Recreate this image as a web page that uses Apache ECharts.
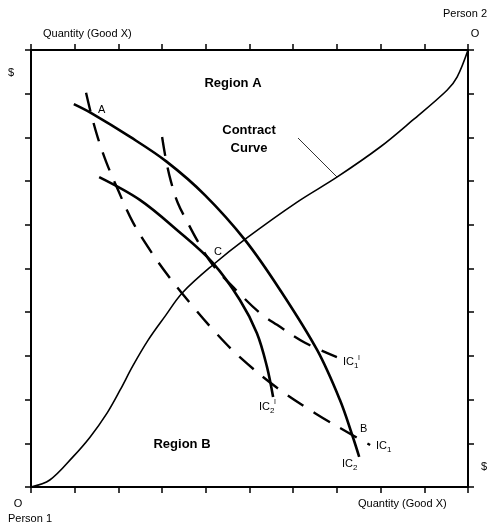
<!DOCTYPE html>
<html><head><meta charset="utf-8">
<script src="https://cdn.jsdelivr.net/npm/echarts@6/dist/echarts.min.js"></script>
<style>html,body{margin:0;padding:0;background:#fff}#c{width:490px;height:532px}</style>
</head><body><div id="c"></div>
<script>
// Axis tick positions (0..10, no labels)
const tickValues = [0,1,2,3,4,5,6,7,8,9,10];

// Contract curve
const contractX = [0, 0.43, 0.96, 1.35, 1.74, 2.04, 2.33, 2.68, 3.07, 3.46, 4.16, 4.94, 6.09, 7.00, 7.99, 8.74, 9.52, 9.75, 10];
const contractY = [0, 0.16, 0.69, 1.14, 1.69, 2.22, 2.77, 3.36, 3.91, 4.44, 5.08, 5.70, 6.52, 7.09, 7.78, 8.40, 9.08, 9.38, 10];

// IC2 (solid, outer)
const ic2X = [0.98, 1.37, 2.27, 3.11, 3.98, 4.90, 5.70, 6.55, 7.07, 7.35, 7.51];
const ic2Y = [8.76, 8.56, 8.01, 7.44, 6.68, 5.65, 4.51, 3.13, 1.99, 1.19, 0.69];

// IC2' (solid, inner)
const ic2pX = [1.56, 2.49, 3.34, 4.16, 4.78, 5.17, 5.40, 5.54];
const ic2pY = [7.09, 6.57, 5.88, 5.13, 4.28, 3.52, 2.75, 2.06];

// IC1 (dashed, through A and B)
const ic1X = [1.26, 1.37, 1.53, 1.72, 1.99, 2.33, 2.77, 3.18, 3.68, 4.21, 4.78, 5.63, 6.50, 7.35, 7.76];
const ic1Y = [9.02, 8.56, 7.99, 7.44, 6.80, 6.06, 5.35, 4.78, 4.16, 3.55, 2.97, 2.27, 1.69, 1.19, 0.96];

// IC1' (dashed, through C)
const ic1pX = [3.00, 3.09, 3.20, 3.36, 3.59, 3.84, 4.16, 4.67, 5.24, 5.63, 6.27, 7.00];
const ic1pY = [8.01, 7.48, 7.00, 6.50, 6.04, 5.58, 5.08, 4.53, 3.98, 3.71, 3.30, 2.97];

const zip = (xs, ys) => xs.map((x, i) => [x, ys[i]]);
const FONT = 'Liberation Sans, Arial, sans-serif';

function axisCommon(extra) {
  return Object.assign({
    type: 'value', min: tickValues[0], max: tickValues[tickValues.length-1], interval: 1,
    axisLine: { show: true, onZero: false, lineStyle: { color: '#000', width: 2 } },
    axisTick: { show: true, inside: false, length: 6, lineStyle: { color: '#000', width: 1.5 } },
    axisLabel: { show: false },
    splitLine: { show: false }
  }, extra);
}

function txt(x, y, s, size, weight, align) {
  return { type: 'text', x: x, y: y, style: { text: s, font: (weight||'normal') + ' ' + size + 'px ' + FONT, fill: '#000', align: align || 'left', verticalAlign: 'middle' } };
}

const solid = { color: '#000', width: 2.6, type: 'solid' };
const dashed = { color: '#000', width: 2.4, type: [19, 12] };
function curve(xs, ys, ls) {
  return { type: 'line', data: zip(xs, ys), smooth: 0.35, showSymbol: false, lineStyle: ls };
}

const chart = echarts.init(document.getElementById('c'), null, { renderer: 'canvas' });
chart.setOption({
  animation: false,
  backgroundColor: '#fff',
  grid: { left: 31, right: 22, top: 50, bottom: 45 },
  xAxis: [axisCommon({ position: 'bottom' }), axisCommon({ position: 'top' })],
  yAxis: [axisCommon({ position: 'left' }), axisCommon({ position: 'right' })],
  series: [
    curve(contractX, contractY, { color: '#000', width: 1.6 }),
    curve(ic2X, ic2Y, solid),
    curve(ic2pX, ic2pY, solid),
    curve(ic1X, ic1Y, dashed),
    curve(ic1pX, ic1pY, dashed)
  ],
  graphic: [
    txt(465, 14, 'Person 2', 11, 'normal', 'center'),
    txt(43, 34, 'Quantity (Good X)', 11),
    txt(475, 34, 'O', 11, 'normal', 'center'),
    txt(11, 73, '$', 11, 'normal', 'center'),
    txt(484, 467, '$', 11, 'normal', 'center'),
    txt(18, 504, 'O', 11, 'normal', 'center'),
    txt(358, 504, 'Quantity (Good X)', 11),
    txt(8, 519, 'Person 1', 11),
    txt(233, 83, 'Region A', 13, 'bold', 'center'),
    txt(182, 444, 'Region B', 13, 'bold', 'center'),
    txt(249, 130, 'Contract', 13, 'bold', 'center'),
    txt(249, 148, 'Curve', 13, 'bold', 'center'),
    { type: 'line', shape: { x1: 298, y1: 138, x2: 337, y2: 177 }, style: { stroke: '#000', lineWidth: 0.8 } },
    txt(98, 110, 'A', 11),
    txt(214, 252, 'C', 11),
    txt(360, 429, 'B', 11),
    txt(343, 362, 'IC', 11), txt(354, 366, '1', 8), txt(358, 358, 'I', 7),
    txt(376, 446, 'IC', 11), txt(387, 450, '1', 8),
    txt(342, 464, 'IC', 11), txt(353, 468, '2', 8),
    txt(259, 407, 'IC', 11), txt(270, 411, '2', 8), txt(274, 402, 'I', 7)
  ]
});
</script></body></html>
